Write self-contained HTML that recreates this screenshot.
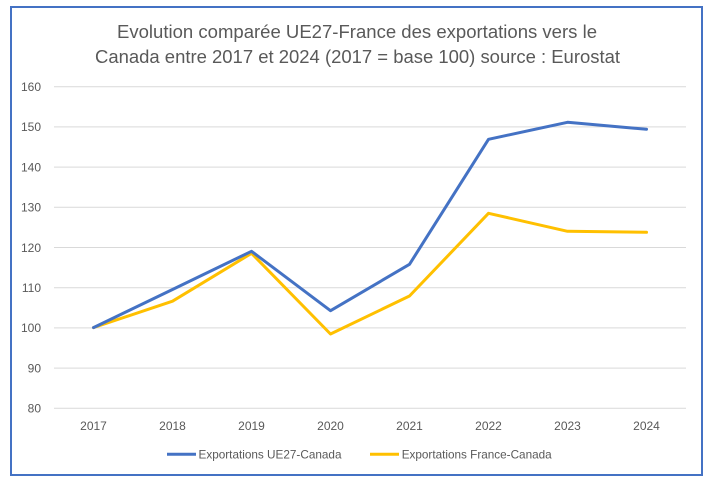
<!DOCTYPE html>
<html><head><meta charset="utf-8"><style>
html,body{margin:0;padding:0;background:#fff;}
svg{display:block;}
text{font-family:"Liberation Sans",sans-serif;fill:#595959;}
</style></head><body>
<svg width="714" height="486" viewBox="0 0 714 486" xmlns="http://www.w3.org/2000/svg">
<rect x="0" y="0" width="714" height="486" fill="#fff"/>
<rect x="11" y="7" width="691" height="468" fill="#fff" stroke="#4472C4" stroke-width="2"/>
<text x="357" y="38" font-size="18" text-anchor="middle" textLength="480" lengthAdjust="spacingAndGlyphs">Evolution comparée UE27-France des exportations vers le</text>
<text x="357.5" y="63" font-size="18" text-anchor="middle" textLength="525" lengthAdjust="spacingAndGlyphs">Canada entre 2017 et 2024 (2017 = base 100) source : Eurostat</text>
<g stroke="#D9D9D9" stroke-width="1">
<line x1="54" x2="686" y1="86.7" y2="86.7"/>
<line x1="54" x2="686" y1="126.9" y2="126.9"/>
<line x1="54" x2="686" y1="167.1" y2="167.1"/>
<line x1="54" x2="686" y1="207.3" y2="207.3"/>
<line x1="54" x2="686" y1="247.5" y2="247.5"/>
<line x1="54" x2="686" y1="287.7" y2="287.7"/>
<line x1="54" x2="686" y1="327.9" y2="327.9"/>
<line x1="54" x2="686" y1="368.1" y2="368.1"/>
<line x1="54" x2="686" y1="408.3" y2="408.3"/>
</g>
<g font-size="12" text-anchor="end">
<text x="41" y="91">160</text>
<text x="41" y="131.2">150</text>
<text x="41" y="171.4">140</text>
<text x="41" y="211.6">130</text>
<text x="41" y="251.8">120</text>
<text x="41" y="292">110</text>
<text x="41" y="332.2">100</text>
<text x="41" y="372.4">90</text>
<text x="41" y="412.6">80</text>
</g>
<g font-size="12" text-anchor="middle">
<text x="93.5" y="430">2017</text>
<text x="172.5" y="430">2018</text>
<text x="251.5" y="430">2019</text>
<text x="330.5" y="430">2020</text>
<text x="409.5" y="430">2021</text>
<text x="488.5" y="430">2022</text>
<text x="567.5" y="430">2023</text>
<text x="646.5" y="430">2024</text>
</g>
<polyline fill="none" stroke="#FFC000" stroke-width="3" stroke-linejoin="round" stroke-linecap="round"
 points="93.5,327.6 172.5,301.2 251.5,253.3 330.5,334 409.5,296 488.5,213.3 567.5,231.3 646.5,232.3"/>
<polyline fill="none" stroke="#4472C4" stroke-width="3" stroke-linejoin="round" stroke-linecap="round"
 points="93.5,327.6 172.5,289.5 251.5,251.3 330.5,310.7 409.5,264.3 488.5,139.3 567.5,122.3 646.5,129.3"/>
<line x1="167" x2="196" y1="454.3" y2="454.3" stroke="#4472C4" stroke-width="3"/>
<text x="198.5" y="458.5" font-size="12" textLength="143" lengthAdjust="spacingAndGlyphs">Exportations UE27-Canada</text>
<line x1="370" x2="399" y1="454.3" y2="454.3" stroke="#FFC000" stroke-width="3"/>
<text x="401.7" y="458.5" font-size="12" textLength="150" lengthAdjust="spacingAndGlyphs">Exportations France-Canada</text>
</svg>
</body></html>
